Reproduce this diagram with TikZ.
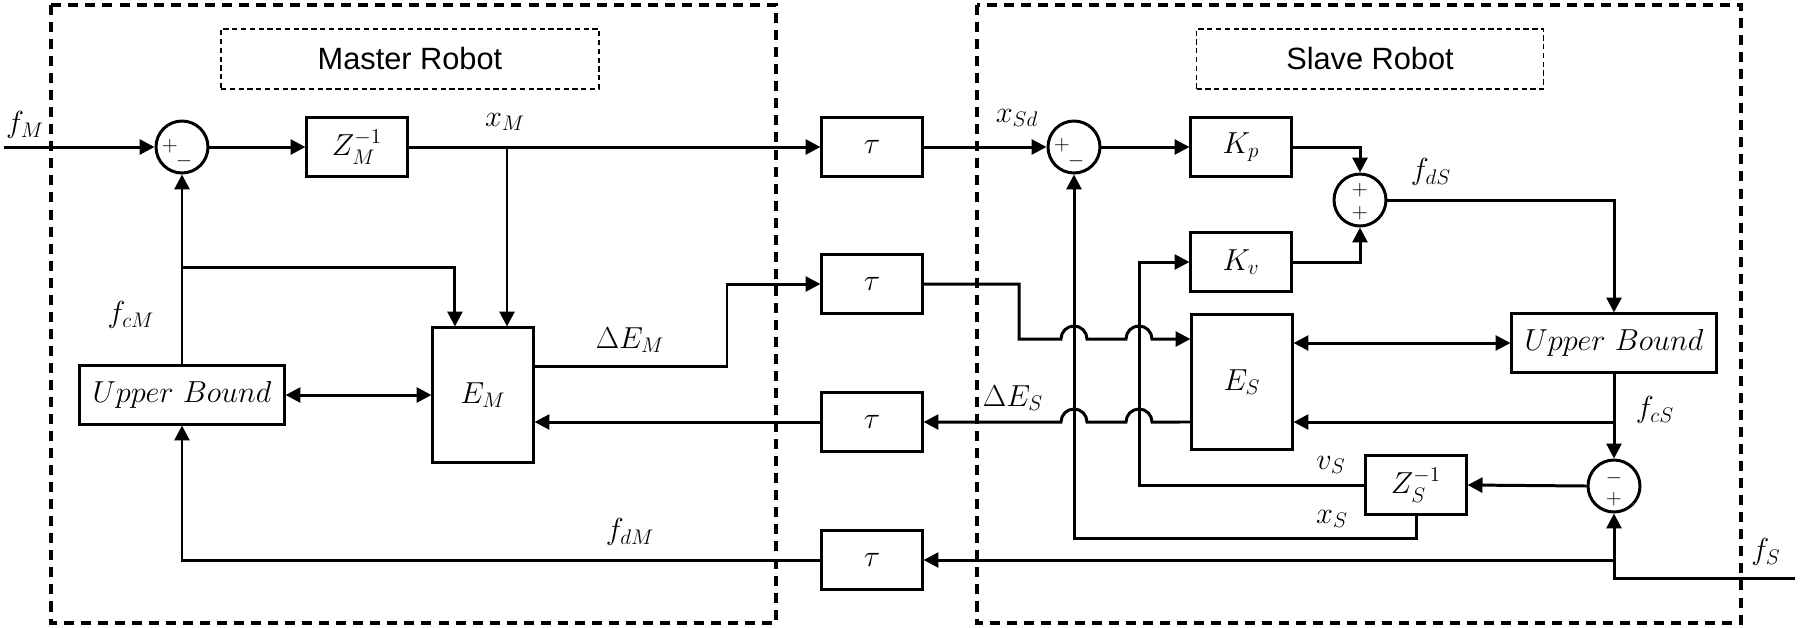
\documentclass[tikz,border=0pt]{standalone}
\usepackage{amsmath}
\usepackage{fontspec}
\usepackage{tikz}
\usetikzlibrary{arrows.meta}
\newfontfamily\robotfont{Liberation Sans}

\tikzset{
  block/.style={draw, line width=1.2pt, minimum width=2.02cm, minimum height=1.18cm, inner sep=0pt, font=\LARGE},
  tallblock/.style={block, minimum height=2.7cm},
  boundblock/.style={block, minimum width=4.1cm},
  sumnode/.style={circle, draw, line width=1.7pt, minimum size=1.04cm, inner sep=0pt},
  sign/.style={font=\large, inner sep=0pt},
  sig/.style={line width=1.7pt, -{Triangle[length=8.5pt,width=8.5pt]}},
  dsig/.style={line width=1.7pt, {Triangle[length=8.5pt,width=8.5pt]}-{Triangle[length=8.5pt,width=8.5pt]}},
  frame/.style={line width=1.8pt, dash pattern=on 5.7pt off 4pt},
  titlebox/.style={draw, line width=0.9pt, dash pattern=on 3pt off 2pt, minimum height=1.2cm, font=\robotfont\fontsize{17.5}{20}\selectfont},
  lbl/.style={font=\LARGE, inner sep=0pt},
}

\begin{document}
\begin{tikzpicture}[x=0.02cm, y=-0.02cm]
    \useasboundingbox (0,0) rectangle (1800,627);

    % robot frames
    \draw[frame] (51,5) rectangle (776,623);
    \draw[frame] (977,5) rectangle (1741,623);
    \node[titlebox, minimum width=7.56cm] (masterTitle) at (410,59) {Master Robot};
    \node[titlebox, minimum width=6.94cm] (slaveTitle) at (1370,59) {Slave Robot};

    % master side
    \node[sumnode] (sumM) at (182,147) {};
    \node[sign] (sumMplus) at (170,146) {$+$};
    \node[sign] (sumMminus) at (184,161) {$-$};
    \node[block] (ZM) at (357,147) {$Z_M^{-1}$};
    \node[tallblock] (EM) at (483,395) {$E_M$};
    \node[boundblock] (UBM) at (182,395) {$Upper\ Bound$};

    % delays
    \node[block] (tauA) at (872,147) {$\tau$};
    \node[block] (tauB) at (872,284) {$\tau$};
    \node[block] (tauC) at (872,422) {$\tau$};
    \node[block] (tauD) at (872,560) {$\tau$};

    % slave side
    \node[sumnode] (sumS1) at (1074,147) {};
    \node[sign] (sumS1plus) at (1062,145) {$+$};
    \node[sign] (sumS1minus) at (1076,161) {$-$};
    \node[block] (Kp) at (1241,147) {$K_p$};
    \node[block] (Kv) at (1241,262) {$K_v$};
    \node[sumnode] (sumS2) at (1360,200) {};
    \node[sign] (sumS2top) at (1360,190) {$+$};
    \node[sign] (sumS2bot) at (1360,213) {$+$};
    \node[tallblock] (ES) at (1242,382) {$E_S$};
    \node[boundblock] (UBS) at (1614,343) {$Upper\ Bound$};
    \node[sumnode] (sumS3) at (1614,486) {};
    \node[sign] (sumS3top) at (1614,478) {$-$};
    \node[sign] (sumS3bot) at (1614,499) {$+$};
    \node[block] (ZS) at (1416,485) {$Z_S^{-1}$};

    % branch points and corners
    \coordinate (fMin) at (4,147);
    \coordinate (xMsplit) at (507,147);
    \coordinate (fcMsplit) at (182,267);
    \coordinate (dEMcorner) at (727,284);
    \coordinate (vScorner) at (1139,262);
    \coordinate (xScorner) at (1074,538);
    \coordinate (fcSsplit) at (1614,422);
    \coordinate (fSin) at (1795,578);
    \coordinate (fSsplit) at (1614,560);

    % forward path
    \draw[sig] (fMin) -- (sumM.west);
    \draw[sig] (sumM.east) -- (ZM.west);
    \draw[sig] (ZM.east) -- (tauA.west);
    \draw[sig] (xMsplit) -- (xMsplit |- EM.north);
    \draw[sig] (tauA.east) -- (sumS1.west);
    \draw[sig] (sumS1.east) -- (Kp.west);
    \draw[sig] (Kp.east) -| (sumS2.north);
    \draw[sig] (Kv.east) -| (sumS2.south);
    \draw[sig] (sumS2.east) -| (UBS.north);
    \draw[dsig] (UBS.west) -- (UBS.west -| ES.east);
    \draw[sig] (UBS.south) -- (sumS3.north);
    \draw[sig] (fcSsplit) -- (fcSsplit -| ES.east);
    \draw[sig] (sumS3.west) -- (ZS.east);
    \draw[sig] (ZS.west) -| (vScorner) -- (Kv.west);
    \draw[sig] (ZS.south) |- (xScorner) -- (sumS1.south);

    % energy exchange
    \draw[dsig] (UBM.east) -- (UBM.east -| EM.west);
    \draw[sig] (fcMsplit) -| ([xshift=0.47cm]EM.north west);
    \draw[sig] (UBM.north) -- (sumM.south);
    \draw[sig] ([yshift=0.58cm]EM.east) -| (dEMcorner) -- (tauB.west);
    \draw[sig] (tauB.east) -- (1019,284) -- (1019,339) -- (1061,339)
        arc[start angle=180, end angle=0, radius=0.26cm] -- (1126,339)
        arc[start angle=180, end angle=0, radius=0.26cm] -- ([yshift=0.86cm]ES.west);
    \draw[sig] ([yshift=-0.8cm]ES.west) -- (1152,422)
        arc[start angle=0, end angle=180, radius=0.26cm] -- (1087,422)
        arc[start angle=0, end angle=180, radius=0.26cm] -- (tauC.east);
    \draw[sig] (tauC.west) -- (tauC.west -| EM.east);

    % external force
    \draw[sig] (fSin) -| (sumS3.south);
    \draw[sig] (fSsplit) -- (tauD.east);
    \draw[sig] (tauD.west) -| (UBM.south);

    % signal labels
    \node[lbl] (fMlabel) at (25,125) {$f_M$};
    \node[lbl] (xMlabel) at (505,122) {$x_M$};
    \node[lbl] (xSdlabel) at (1017,118) {$x_{Sd}$};
    \node[lbl] (fdSlabel) at (1431,172) {$f_{dS}$};
    \node[lbl] (fcMlabel) at (131,315) {$f_{cM}$};
    \node[lbl] (dEMlabel) at (630,340) {$\Delta E_M$};
    \node[lbl] (dESlabel) at (1013,398) {$\Delta E_S$};
    \node[lbl] (fdMlabel) at (630,532) {$f_{dM}$};
    \node[lbl] (fcSlabel) at (1655,410) {$f_{cS}$};
    \node[lbl] (vSlabel) at (1331,465) {$v_S$};
    \node[lbl] (xSlabel) at (1332,519) {$x_S$};
    \node[lbl] (fSlabel) at (1766,552) {$f_S$};
\end{tikzpicture}
\end{document}
